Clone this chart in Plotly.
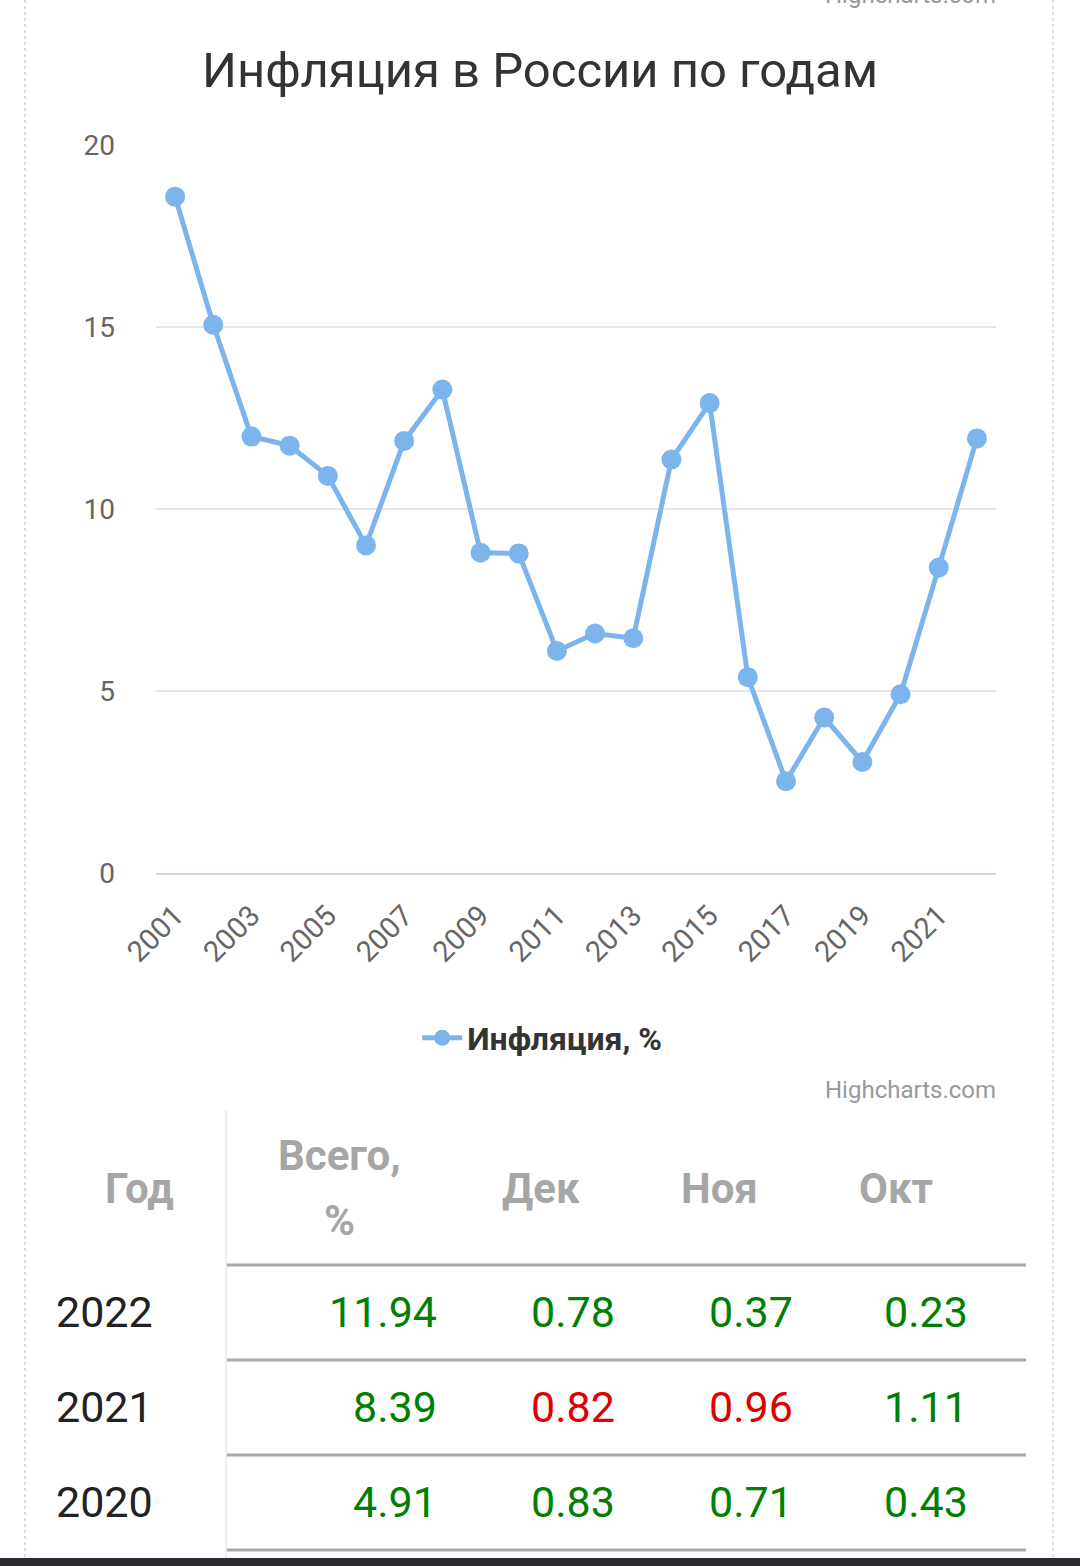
import plotly.graph_objects as go

W, H = 1080, 1566

years = list(range(2001, 2023))
inflation = [18.58, 15.06, 11.99, 11.74, 10.91, 9.00, 11.87, 13.28, 8.80, 8.78, 6.10,
             6.58, 6.45, 11.36, 12.91, 5.38, 2.52, 4.27, 3.05, 4.91, 8.39, 11.94]

x_ticks = list(range(2001, 2022, 2))
y_ticks = [0, 5, 10, 15, 20]

# table under the chart
table_header = ["Год", "Всего,", "Дек", "Ноя", "Окт"]
table_years = ["2022", "2021", "2020"]
table_total = [11.94, 8.39, 4.91]
table_dec = [0.78, 0.82, 0.83]
table_nov = [0.37, 0.96, 0.71]
table_oct = [0.23, 1.11, 0.43]
red_cells = {(1, 1), (1, 2)}  # (row, month column) shown in red


def px(x):
    return x / W


def py(y):
    return 1 - y / H


fig = go.Figure()
fig.add_trace(go.Scatter(
    x=years, y=inflation, mode='lines+markers', name='Инфляция, %',
    line=dict(color='#7cb5ec', width=5),
    marker=dict(color='#7cb5ec', size=20),
))

fig.update_layout(
    width=W, height=H,
    margin=dict(l=0, r=0, t=0, b=0, autoexpand=False),
    paper_bgcolor='white', plot_bgcolor='white',
    font=dict(family='Roboto', color='#333333'),
    title=dict(text='Инфляция в России по годам', x=0.5, xanchor='center',
               y=py(70), yanchor='middle', font=dict(size=49, color='#333333')),
    showlegend=True,
    legend=dict(orientation='h', x=0.502, xanchor='center', y=py(1038), yanchor='middle',
                font=dict(size=32, color='#333333', family='Roboto', weight='bold'),
                itemwidth=40),
    xaxis=dict(domain=[px(156), px(996)], range=[2000.5, 2022.5],
               tickvals=x_ticks, tickangle=-45, showgrid=False,
               showline=True, linecolor='#ccd6eb', linewidth=2,
               tickfont=dict(size=29, color='#666666'), ticklabelstandoff=12,
               zeroline=False, fixedrange=True, automargin=False),
    yaxis=dict(domain=[py(873), py(145)], range=[0, 20], tickvals=y_ticks,
               gridcolor='#e6e6e6', gridwidth=2, zeroline=False,
               tickfont=dict(size=28, color='#666666'), ticklabelstandoff=40,
               fixedrange=True, automargin=False),
)

ann = []
# credits
ann.append(dict(text='Highcharts.com', x=px(998), y=py(-5), xanchor='right', yanchor='middle',
                font=dict(size=24, color='#999999')))
ann.append(dict(text='Highcharts.com', x=px(998), y=py(1090), xanchor='right', yanchor='middle',
                font=dict(size=24, color='#999999')))

# table header
head_font = dict(size=42, color='#a6a6a6', family='Roboto', weight='bold')
head_x = [139, 339, 541, 719, 896]
for i, h in enumerate(table_header):
    yy = 1155 if i == 1 else 1188
    ann.append(dict(text=h, x=px(head_x[i]), y=py(yy), xanchor='center', yanchor='middle', font=head_font))
ann.append(dict(text='%', x=px(339), y=py(1220), xanchor='center', yanchor='middle', font=head_font))

# table rows
row_y = [1312, 1407, 1502]
col_x = [439, 617, 795, 970]
for r, yr in enumerate(table_years):
    ann.append(dict(text=yr, x=px(54), y=py(row_y[r]), xanchor='left', yanchor='middle',
                    font=dict(size=43, color='#222222')))
    vals = [table_total[r], table_dec[r], table_nov[r], table_oct[r]]
    for c, v in enumerate(vals):
        col = '#dd0000' if (r, c) in red_cells else '#008000'
        ann.append(dict(text=f'{v:.2f}', x=px(col_x[c]), y=py(row_y[r]), xanchor='right',
                        yanchor='middle', font=dict(size=43, color=col)))

for a in ann:
    a.update(xref='paper', yref='paper', showarrow=False)
fig.update_layout(annotations=ann)

shapes = []
for yy in [1265, 1360, 1455, 1550]:
    shapes.append(dict(type='line', x0=px(226), x1=px(1026), y0=py(yy), y1=py(yy),
                       line=dict(color='#a9a9a9', width=3)))
shapes.append(dict(type='line', x0=px(226), x1=px(226), y0=py(1110), y1=py(1558),
                   line=dict(color='#eeeeee', width=2)))
for xx in [25, 1053]:
    shapes.append(dict(type='line', x0=px(xx), x1=px(xx), y0=py(0), y1=py(1558),
                       line=dict(color='#dddddd', width=2, dash='dot')))
shapes.append(dict(type='rect', x0=0, x1=1, y0=0, y1=py(1558), fillcolor='#2b2b2f',
                   line=dict(width=0)))
for s in shapes:
    s.update(xref='paper', yref='paper', layer='below')
fig.update_layout(shapes=shapes)

# no page margin, so the figure sits at the window's top-left corner
fig.write_html("out.html", config={'displayModeBar': False},
               post_script="document.body.style.margin='0';")
